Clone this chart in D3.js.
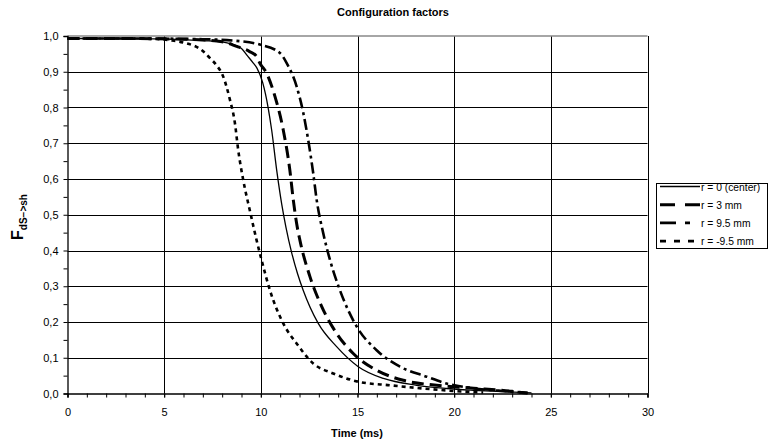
<!DOCTYPE html>
<html><head><meta charset="utf-8">
<script src="https://cdn.jsdelivr.net/npm/d3@7"></script>
<style>
body{margin:0;background:#fff;}
text{font-family:"Liberation Sans",Arial,sans-serif;}
</style></head>
<body><svg id="c" width="769" height="444"></svg>
<script>
const title = "Configuration factors";
const xLabel = "Time (ms)";
const xTicks = [0,5,10,15,20,25,30];
const yTicks = [0,0.1,0.2,0.3,0.4,0.5,0.6,0.7,0.8,0.9,1.0];
const seriesNames = ["r = 0 (center)","r = 3 mm","r = 9.5 mm","r = -9.5 mm"];

const tCenter = [0,2,4,6,7,8,8.4,9,9.3,9.6,9.8,10.1,10.37,10.56,10.82,11.08,11.3,11.59,11.9,12.19,12.97,13.92,15.04,16.34,18.06,19.6,21,22.5,24];
const fCenter = [0.993,0.993,0.992,0.99,0.987,0.983,0.979,0.965,0.945,0.925,0.91,0.869,0.802,0.737,0.625,0.53,0.465,0.395,0.335,0.289,0.196,0.131,0.075,0.042,0.023,0.014,0.009,0.005,0.002];

const t3 = [0,3,6,8,8.75,9.4,9.78,9.95,10.3,10.73,11.16,11.5,11.68,11.85,12.02,12.54,13.15,13.92,14.78,15.99,17.37,19.1,21,23,23.8];
const f3 = [0.993,0.993,0.991,0.984,0.971,0.957,0.943,0.924,0.896,0.831,0.737,0.625,0.541,0.476,0.429,0.327,0.243,0.168,0.112,0.065,0.037,0.023,0.015,0.006,0.001];

const t95 = [0,4,7,9,9.95,11,11.33,11.85,12.2,12.45,12.71,12.89,13.23,13.58,14.09,14.96,15.99,17.2,18.58,19.6,21,22.5,23.8];
const f95 = [0.993,0.993,0.991,0.985,0.976,0.952,0.925,0.859,0.784,0.709,0.616,0.541,0.448,0.373,0.289,0.187,0.121,0.075,0.047,0.028,0.015,0.007,0.002];

const tm95 = [0,2,4.27,5.3,5.97,7.0,7.37,7.71,8.05,8.4,8.66,8.83,9.09,9.44,9.78,10.04,10.47,11.16,11.85,12.71,13.75,15.04,16.68,18.4,20,21.5];
const fm95 = [0.993,0.993,0.992,0.988,0.982,0.958,0.938,0.918,0.887,0.822,0.756,0.681,0.597,0.51,0.429,0.373,0.289,0.196,0.14,0.084,0.056,0.033,0.023,0.014,0.007,0.003];

const series = [
  {name:seriesNames[0], t:tCenter, f:fCenter, w:1.3, dash:null, legDash:null},
  {name:seriesNames[1], t:t3, f:f3, w:3, dash:"12,6", legDash:"15,10"},
  {name:seriesNames[2], t:t95, f:f95, w:2.6, dash:"11,4,3,4", legDash:"16,9,5,20"},
  {name:seriesNames[3], t:tm95, f:fm95, w:2.6, dash:"4,4", legDash:"6,8"}
];

const svg = d3.select("#c");
const L=67.5, R=647.5, T=36, B=393.5;
const x = d3.scaleLinear().domain([0,30]).range([L,R]);
const y = d3.scaleLinear().domain([0,1]).range([B,T]);

// gridlines
svg.append("g").selectAll("line").data(yTicks.slice(1,-1)).join("line")
  .attr("x1",L).attr("x2",R).attr("y1",d=>Math.round(y(d))+0.5).attr("y2",d=>Math.round(y(d))+0.5)
  .attr("stroke","#000").attr("stroke-width",1);
svg.append("g").selectAll("line").data(xTicks.slice(1)).join("line")
  .attr("y1",T).attr("y2",B).attr("x1",d=>Math.round(x(d))+0.5).attr("x2",d=>Math.round(x(d))+0.5)
  .attr("stroke","#000").attr("stroke-width",1);
// top border
svg.append("line").attr("x1",L).attr("x2",R).attr("y1",T).attr("y2",T).attr("stroke","#888").attr("stroke-width",1.5);

// axes
const yAxis = d3.axisLeft(y).tickValues(yTicks).tickFormat(d=>d3.format(".1f")(d).replace(".",",")).tickSize(4).tickPadding(5);
const gy = svg.append("g").attr("transform",`translate(${L},0)`).call(yAxis);
const yMinor = d3.axisLeft(y).tickValues(d3.range(0.05,1,0.1)).tickFormat("").tickSize(4);
svg.append("g").attr("transform",`translate(${L},0)`).call(yMinor).select(".domain").remove();
const xAxis = d3.axisBottom(x).tickValues(xTicks).tickSize(4).tickPadding(11);
const gx = svg.append("g").attr("transform",`translate(0,${B})`).call(xAxis);
const xMinor = d3.axisBottom(x).tickValues(d3.range(0,31,1)).tickFormat("").tickSize(4);
svg.append("g").attr("transform",`translate(0,${B})`).call(xMinor).select(".domain").remove();
svg.selectAll(".domain").attr("stroke","#000").attr("stroke-width",1.3);
svg.selectAll(".tick line").attr("stroke","#000");
svg.selectAll(".tick text").attr("font-size",11).attr("fill","#000").attr("font-family","Liberation Sans, Arial, sans-serif");

// curves
const line = d3.line().x(d=>x(d[0])).y(d=>y(d[1])).curve(d3.curveMonotoneX);
series.forEach(s=>{
  const pts = s.t.map((t,i)=>[t,s.f[i]]);
  svg.append("path").datum(pts).attr("d",line).attr("fill","none")
    .attr("stroke","#000").attr("stroke-width",s.w)
    .attr("stroke-dasharray",s.dash);
});

// title & labels
svg.append("text").attr("x",393).attr("y",16).attr("text-anchor","middle")
  .attr("font-size",11).attr("font-weight","bold").text(title);
svg.append("text").attr("x",357).attr("y",437).attr("text-anchor","middle")
  .attr("font-size",11).attr("font-weight","bold").text(xLabel);
const yl = svg.append("text").attr("transform","translate(23,217) rotate(-90)").attr("text-anchor","middle")
  .attr("font-weight","bold");
yl.append("tspan").attr("font-size",16).text("F");
yl.append("tspan").attr("font-size",10).attr("dy",4).text("dS−>sh");

// legend
const lg = svg.append("g");
lg.append("rect").attr("x",656.5).attr("y",183.5).attr("width",111).attr("height",65)
  .attr("fill","#fff").attr("stroke","#000").attr("stroke-width",1);
series.forEach((s,i)=>{
  const yy = 186.5 + i*18.2;
  lg.append("line").attr("x1",660).attr("x2",700).attr("y1",yy).attr("y2",yy)
    .attr("stroke","#000").attr("stroke-width",s.w).attr("stroke-dasharray",s.legDash);
  lg.append("text").attr("x",701).attr("y",yy+4).attr("font-size",10.3).text(s.name);
});
</script></body></html>
